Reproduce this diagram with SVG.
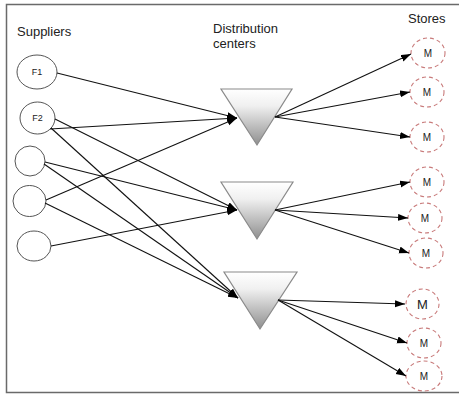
<svg xmlns="http://www.w3.org/2000/svg" width="460" height="396" viewBox="0 0 460 396">
<style>
.lbl{font-family:"Liberation Sans",Arial,sans-serif;fill:#222}
.sup{fill:#fff;stroke:#555;stroke-width:1}
.store{fill:#fff;stroke:#c87a7a;stroke-width:1.1;stroke-dasharray:4 3}
.tri{fill:url(#tg);stroke:#8a8a8a;stroke-width:1.2}
.edge{stroke:#111;stroke-width:1.1;fill:none;marker-end:url(#ah)}
.small{font-size:9px;text-anchor:middle}
.m{font-size:10px;text-anchor:middle}
.hd{font-size:13px}
</style>
<defs>
<linearGradient id="tg" x1="0" y1="0" x2="0" y2="1">
<stop offset="0" stop-color="#ffffff"/>
<stop offset="0.3" stop-color="#f0f0f0"/>
<stop offset="1" stop-color="#8f8f8f"/>
</linearGradient>
<marker id="ah" markerUnits="userSpaceOnUse" markerWidth="11" markerHeight="8" refX="10" refY="3.5" orient="auto">
<path d="M0,0 L10,3.5 L0,7 z" fill="#000"/>
</marker>
</defs>
<rect width="460" height="396" fill="#fff"/>
<path d="M459,4.5 H6.5 V392.5 H459" fill="none" stroke="#6a6a6a" stroke-width="1.5"/>
<text class="lbl hd" x="17" y="36">Suppliers</text>
<text class="lbl hd" x="213" y="33">Distribution</text>
<text class="lbl hd" x="213" y="48">centers</text>
<text class="lbl hd" x="408" y="23">Stores</text>
<g id="F1"><ellipse class="sup" cx="37" cy="72" rx="20" ry="17"/><text class="lbl small" x="37" y="75">F1</text></g>
<g id="F2"><ellipse class="sup" cx="37.5" cy="118" rx="17.5" ry="16"/><text class="lbl small" x="37.5" y="121">F2</text></g>
<g id="S3"><ellipse class="sup" cx="30" cy="161" rx="15" ry="15"/></g>
<g id="S4"><ellipse class="sup" cx="29.5" cy="201" rx="16.5" ry="15.5"/></g>
<g id="S5"><ellipse class="sup" cx="34" cy="246" rx="17" ry="15"/></g>
<g id="D1"><polygon class="tri" points="221,89 292,89 257,145"/></g>
<g id="D2"><polygon class="tri" points="221,182 293,182 257,239"/></g>
<g id="D3"><polygon class="tri" points="224,272 297,272 260,329"/></g>
<g id="M1"><ellipse class="store" cx="428" cy="53" rx="17" ry="15"/><text class="lbl m" x="428" y="57">M</text></g>
<g id="M2"><ellipse class="store" cx="427" cy="92" rx="17" ry="15"/><text class="lbl m" x="427" y="96">M</text></g>
<g id="M3"><ellipse class="store" cx="427" cy="137" rx="17" ry="15"/><text class="lbl m" x="427" y="141">M</text></g>
<g id="M4"><ellipse class="store" cx="427" cy="182" rx="17" ry="15"/><text class="lbl m" x="427" y="186">M</text></g>
<g id="M5"><ellipse class="store" cx="425" cy="218" rx="17" ry="15"/><text class="lbl m" x="425" y="222">M</text></g>
<g id="M6"><ellipse class="store" cx="426" cy="253" rx="17" ry="15"/><text class="lbl m" x="426" y="257">M</text></g>
<g id="M7"><ellipse class="store" cx="422.5" cy="304" rx="16.5" ry="15"/><text class="lbl" x="422.5" y="309" font-size="13" text-anchor="middle">M</text></g>
<g id="M8"><ellipse class="store" cx="424" cy="343" rx="17" ry="15"/><text class="lbl m" x="424" y="347">M</text></g>
<g id="M9"><ellipse class="store" cx="424" cy="376" rx="18" ry="15"/><text class="lbl m" x="424" y="380">M</text></g>
<g id="connectors">
<line class="edge" x1="57" y1="73" x2="237" y2="118"/>
<line class="edge" x1="50" y1="129" x2="237" y2="118"/>
<line class="edge" x1="46" y1="200" x2="237" y2="118"/>
<line class="edge" x1="55" y1="119" x2="237" y2="210"/>
<line class="edge" x1="45" y1="162" x2="237" y2="210"/>
<line class="edge" x1="51" y1="246" x2="237" y2="210"/>
<line class="edge" x1="51" y1="128" x2="238" y2="298"/>
<line class="edge" x1="44" y1="164" x2="238" y2="298"/>
<line class="edge" x1="45" y1="203" x2="238" y2="298"/>
<line class="edge" x1="275" y1="117" x2="411" y2="54"/>
<line class="edge" x1="275" y1="117" x2="410" y2="92"/>
<line class="edge" x1="275" y1="117" x2="410" y2="137"/>
<line class="edge" x1="275" y1="210" x2="410" y2="182"/>
<line class="edge" x1="275" y1="210" x2="408" y2="218"/>
<line class="edge" x1="275" y1="210" x2="409" y2="253"/>
<line class="edge" x1="278" y1="300" x2="405" y2="304"/>
<line class="edge" x1="278" y1="300" x2="407" y2="343"/>
<line class="edge" x1="278" y1="300" x2="406" y2="376"/>
</g>
</svg>
